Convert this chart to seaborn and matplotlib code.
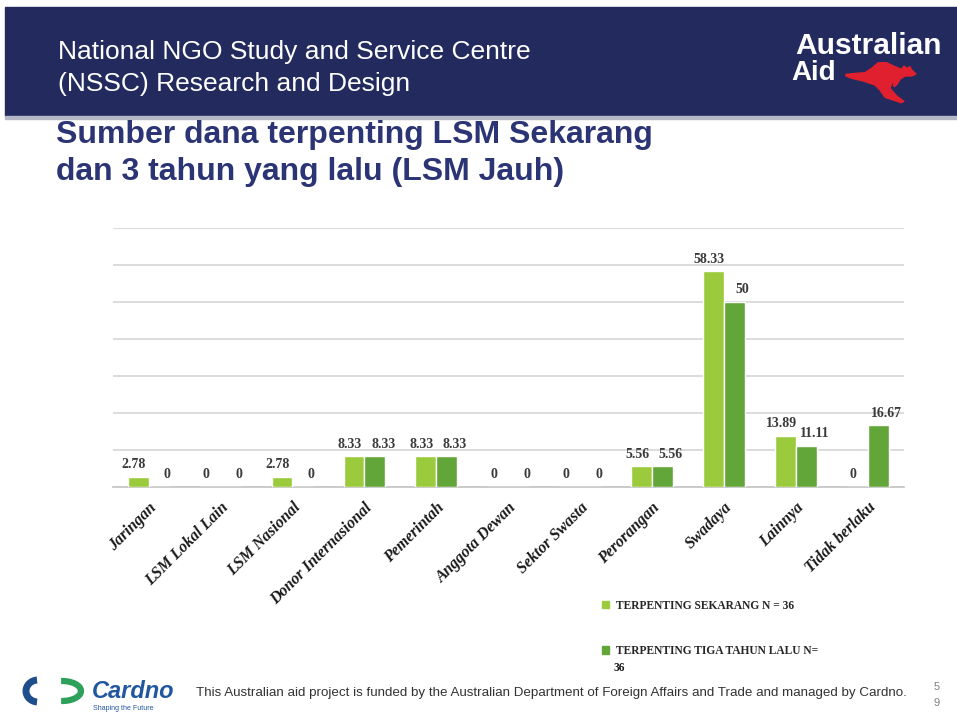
import pandas as pd
import matplotlib
matplotlib.use("Agg")
import matplotlib.pyplot as plt
import seaborn as sns
from matplotlib.patches import Rectangle, Patch, Polygon, Arc

# data
kategori = ["Jaringan", "LSM Lokal Lain", "LSM Nasional", "Donor Internasional",
            "Pemerintah", "Anggota Dewan", "Sektor Swasta", "Perorangan",
            "Swadaya", "Lainnya", "Tidak berlaku"]
sekarang = [2.78, 0, 2.78, 8.33, 8.33, 0, 0, 5.56, 58.33, 13.89, 0]
tiga_tahun = [0, 0, 0, 8.33, 8.33, 0, 0, 5.56, 50, 11.11, 16.67]
seri = ["TERPENTING SEKARANG N = 36", "TERPENTING TIGA TAHUN LALU N= 36"]
warna = ["#9BCB3C", "#62A639"]

W, H = 957, 722
SERIF = ["Liberation Serif", "DejaVu Serif"]
SANS = ["Liberation Sans", "DejaVu Sans"]


def px(x, y):
    """pixel position (top-left origin) -> figure fraction"""
    return x / W, 1 - y / H


df = pd.DataFrame({
    "Kategori": kategori * 2,
    "Nilai": sekarang + tiga_tahun,
    "Seri": [seri[0]] * len(kategori) + [seri[1]] * len(kategori),
})

sns.set_style("white")
fig = plt.figure(figsize=(W / 100, H / 100), dpi=100)

# ------------------- header band -------------------
fig.add_artist(Rectangle(px(5, 116), 1, 109 / H, transform=fig.transFigure,
                         color="#222A5E", zorder=0))
fig.add_artist(Rectangle(px(5, 119), 1, 3 / H, transform=fig.transFigure,
                         color="#B5B7C6", zorder=0))
fig.text(*px(58, 52), "National NGO Study and Service Centre", color="white",
         fontsize=19, family=SANS, va="center")
fig.text(*px(58, 84), "(NSSC) Research and Design", color="white",
         fontsize=19, family=SANS, va="center")

fig.text(*px(942, 46), "Australian", color="white", fontsize=21.5,
         fontweight="bold", family=SANS, ha="right", va="center")
fig.text(*px(791, 73), "Aid", color="white", fontsize=20,
         fontweight="bold", family=SANS, ha="left", va="center")
kangaroo = [(846, 74.3), (856.7, 73.3), (865, 72.7), (871.7, 68.3),
            (878.3, 62.7), (886.7, 62.7), (895, 66.7), (901.7, 69.3),
            (904, 66), (906.7, 68.3), (910, 66.7), (911.7, 70), (916, 74),
            (911.7, 76), (905, 76), (900, 79.3), (897.3, 84), (894.3, 86.7),
            (893.3, 85.3), (895, 82), (891.7, 83.3), (890, 88.3), (896.7, 96),
            (904, 101.3), (901.3, 102.7), (885, 97.3), (880, 90), (875, 85),
            (863.3, 81), (851.7, 78.3), (846, 76)]
fig.add_artist(Polygon([px(x, y) for x, y in kangaroo], closed=True,
                       transform=fig.transFigure, color="#E0202E"))

# ------------------- title -------------------
fig.text(*px(56, 135), "Sumber dana terpenting LSM Sekarang", color="#2B3474",
         fontsize=23, fontweight="bold", family=SANS, va="center")
fig.text(*px(56, 172), "dan 3 tahun yang lalu (LSM Jauh)", color="#2B3474",
         fontsize=23, fontweight="bold", family=SANS, va="center")

# ------------------- chart -------------------
ax = fig.add_axes([112.7 / W, 1 - 487 / H, 791 / W, 259 / H])
sns.barplot(data=df, x="Kategori", y="Nilai", hue="Seri", palette=warna,
            width=0.58, gap=0, saturation=1, legend=False, ax=ax, zorder=3)

ax.set_ylim(0, 70)
ax.set_xlim(-0.5, len(kategori) - 0.5)
ax.set_yticks(range(0, 71, 10))
ax.yaxis.grid(True, color="#D9D9D9", linewidth=1.3, zorder=0)
ax.set_axisbelow(True)
ax.tick_params(axis="y", length=0, labelleft=False)
for s in ["top", "right", "left"]:
    ax.spines[s].set_visible(False)
ax.spines["bottom"].set_color("#C8C8C8")
ax.spines["bottom"].set_linewidth(1.3)
ax.set_xlabel("")
ax.set_ylabel("")

ax.set_xticks(range(len(kategori)))
ax.set_xticklabels(kategori, rotation=45, ha="right", rotation_mode="anchor",
                   fontstyle="italic", fontweight="bold", family=SERIF,
                   fontsize=11.5, color="#1A1A1A")
ax.tick_params(axis="x", which="major", length=0, pad=9)
ax.set_xticks([i - 0.5 for i in range(len(kategori) + 1)], minor=True)
ax.tick_params(axis="x", which="minor", length=4, color="#C8C8C8", width=1)

# value labels: first series nudged left, second nudged right (as in the slide)
for c, dx in zip(ax.containers, [-3, 6]):
    for t in ax.bar_label(c, fmt="%g", padding=4, fontsize=10, fontweight="bold",
                          family=SERIF, color="#3A3A3A"):
        t.xyann = (dx, t.xyann[1])

# legend
handles = [Patch(color=w) for w in warna]
fig.legend(handles, ["TERPENTING SEKARANG N = 36", "TERPENTING TIGA TAHUN LALU N="],
           loc="upper left", bbox_to_anchor=px(597, 595), frameon=False,
           prop={"family": SERIF, "weight": "bold", "size": 8.3},
           handlelength=0.65, handleheight=0.65, handletextpad=0.6,
           labelspacing=2.9, borderaxespad=0)
fig.text(*px(614, 668), "36", fontsize=8.3, fontweight="bold", family=SERIF,
         color="#1A1A1A", va="center")

# ------------------- footer -------------------
logo = fig.add_axes([20 / W, 1 - 708 / H, 70 / W, 34 / H])
logo.set_xlim(20, 90)
logo.set_ylim(708, 674)
logo.axis("off")
logo.add_patch(Arc((38, 691), 24, 22, theta1=95, theta2=265, lw=5,
                   color="#1F4E8C"))
logo.add_patch(Arc((62, 691), 38, 20, theta1=-95, theta2=95, lw=4.5,
                   color="#2DA05A"))
fig.text(*px(92, 692), "Cardno", color="#21579F", fontsize=17,
         fontweight="bold", fontstyle="italic", family=SANS, va="center")
fig.text(*px(93, 709), "Shaping the Future", color="#21579F", fontsize=5,
         family=SANS, va="center")
fig.text(*px(196, 693), "This Australian aid project is funded by the Australian "
         "Department of Foreign Affairs and Trade and managed by Cardno.",
         fontsize=9.6, family=SANS, color="#333333", va="center")
fig.text(*px(937, 687), "5", fontsize=8, family=SANS, color="#808080",
         ha="center", va="center")
fig.text(*px(937, 703), "9", fontsize=8, family=SANS, color="#808080",
         ha="center", va="center")

fig.savefig("out.png", dpi=100)
